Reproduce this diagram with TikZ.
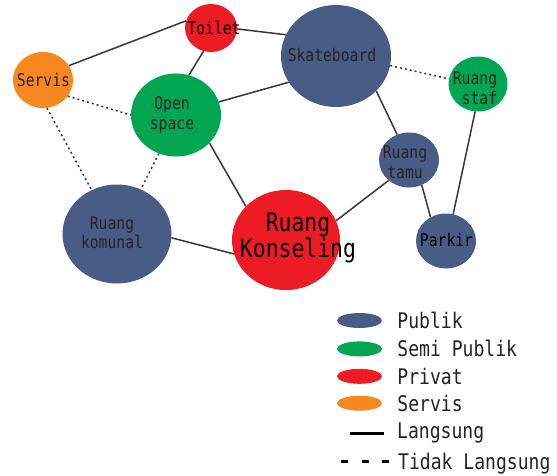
\documentclass[tikz,border=0pt]{standalone}
\usepackage{fontspec}
\setmainfont[FakeStretch=0.84]{DejaVu Sans Mono}
\usetikzlibrary{shapes.geometric,positioning}

\definecolor{publikBlue}{RGB}{72,92,134}
\definecolor{semiGreen}{RGB}{0,166,81}
\definecolor{privatRed}{RGB}{237,28,36}
\definecolor{servisOrange}{RGB}{247,136,31}
\definecolor{textGray}{RGB}{35,35,35}
\definecolor{lineGray}{RGB}{55,55,55}

\begin{document}
\begin{tikzpicture}[x=1pt,y=-1pt]
		\tikzstyle{room} = [ellipse, inner sep=0pt, draw=none]
		\tikzstyle{publik} = [room, fill=publikBlue]
		\tikzstyle{semiPublik} = [room, fill=semiGreen]
		\tikzstyle{privat} = [room, fill=privatRed]
		\tikzstyle{servis} = [room, fill=servisOrange]
		\tikzstyle{roomText} = [inner sep=0pt, align=center, text=textGray, font=\fontsize{17.5}{19.5}\selectfont]
		\tikzstyle{langsung} = [lineGray, line width=1.5pt]
		\tikzstyle{tidakLangsung} = [lineGray, line width=1.5pt, dash pattern=on 2pt off 3pt]
		\tikzstyle{legendMark} = [ellipse, inner sep=0pt, minimum width=45pt, minimum height=15pt]
		\tikzstyle{legendText} = [inner sep=0pt, text=textGray, font=\fontsize{21.5}{24}\selectfont]
		
		\useasboundingbox (0,0) rectangle (557,475);
		
		% ruang
		\node (toilet) [privat, minimum width=52pt, minimum height=48pt] at (211,28) {};
		\node (servis) [servis, minimum width=60pt, minimum height=56pt] at (43,80) {};
		\node (openSpace) [semiPublik, minimum width=90pt, minimum height=83pt] at (176,115) {};
		\node (skateboard) [publik, minimum width=110pt, minimum height=102pt] at (336,56) {};
		\node (ruangStaf) [semiPublik, minimum width=59pt, minimum height=55pt] at (478,84) {};
		\node (ruangTamu) [publik, minimum width=60pt, minimum height=55pt] at (409,160) {};
		\node (parkir) [publik, minimum width=60pt, minimum height=55pt] at (446,241) {};
		\node (ruangKomunal) [publik, minimum width=109pt, minimum height=99pt] at (117,234) {};
		\node (ruangKonseling) [privat, minimum width=108pt, minimum height=100pt] at (286,240) {};
		
		\node (toiletText) [roomText, text=black] at (214,28) {Toilet};
		\node (servisText) [roomText] at (43.5,80) {Servis};
		\node (openSpaceText) [roomText] at (172,115) {Open\\space};
		\node (skateboardText) [roomText] at (332,55) {Skateboard};
		\node (ruangStafText) [roomText, align=right] at (475,88) {Ruang\\staf};
		\node (ruangTamuText) [roomText] at (405,162) {Ruang\\tamu};
		\node (parkirText) [roomText, text=black] at (446.5,240) {Parkir};
		\node (ruangKomunalText) [roomText] at (112,232.5) {Ruang\\komunal};
		\node (ruangKonselingText) [roomText, text=black, font=\fontsize{25.5}{23}\selectfont] at (298,238) {Ruang\\Konseling};
		
		% hubungan langsung
		\draw [langsung] (servis.29) -- (toilet.164);
		\draw [langsung] (toilet.358) -- (skateboard.157);
		\draw [langsung] (toilet.252) -- (openSpace.72);
		\draw [langsung] (openSpace.17) -- (skateboard.209);
		\draw [langsung] (openSpace.320) -- (ruangKonseling.140);
		\draw [langsung] (skateboard.319) -- (ruangTamu.115);
		\draw [langsung] (ruangTamu.225) -- (ruangKonseling.21);
		\draw [langsung] (ruangTamu.297) -- (parkir.123);
		\draw [langsung] (ruangStaf.264) -- (parkir.75);
		\draw [langsung] (ruangKomunal.356) -- (ruangKonseling.195);
		
		% hubungan tidak langsung
		\draw [tidakLangsung] (servis.327) -- (openSpace.180);
		\draw [tidakLangsung] (servis.278) -- (ruangKomunal.120);
		\draw [tidakLangsung] (openSpace.246) -- (ruangKomunal.62);
		\draw [tidakLangsung] (skateboard.350) -- (ruangStaf.170);
		
		% legenda
		\node (legendPublik) [legendMark, fill=publikBlue] at (359.5,320.5) {};
		\node (legendSemiPublik) [legendMark, fill=semiGreen, below = 13pt of legendPublik] {};
		\node (legendPrivat) [legendMark, fill=privatRed, below = 12pt of legendSemiPublik] {};
		\node (legendServis) [legendMark, fill=servisOrange, below = 11.5pt of legendPrivat] {};
		
		\node (legendPublikText) [legendText, right = 15pt of legendPublik] {Publik};
		\node (legendSemiPublikText) [legendText, right = 15pt of legendSemiPublik] {Semi Publik};
		\node (legendPrivatText) [legendText, right = 15pt of legendPrivat] {Privat};
		\node (legendServisText) [legendText, right = 15pt of legendServis] {Servis};
		
		\coordinate (langsungStart) at (350,433);
		\coordinate (langsungEnd) at (384,433);
		\draw [black, line width=3pt] (langsungStart) -- (langsungEnd);
		\node (langsungText) [legendText, right = 13pt of langsungEnd] {Langsung};
		
		\coordinate (tidakStart) at (341,461);
		\coordinate (tidakEnd) at (389,461);
		\draw [black, line width=3pt, dash pattern=on 7pt off 13.5pt] (tidakStart) -- (tidakEnd);
		\node (tidakText) [legendText, right = 9pt of tidakEnd, yshift=-3pt] {Tidak Langsung};
	
\end{tikzpicture}
\end{document}
